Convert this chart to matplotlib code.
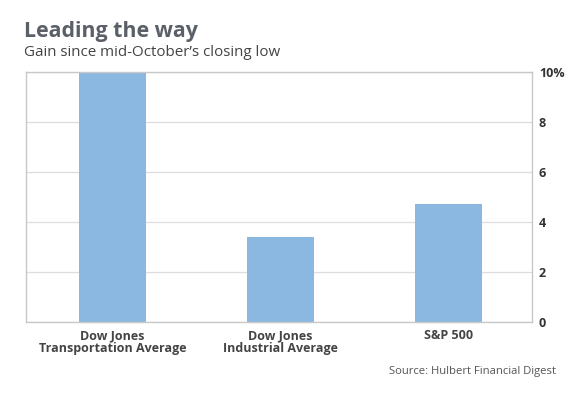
import matplotlib.pyplot as plt

categories = ["Dow Jones\nTransportation Average", "Dow Jones\nIndustrial Average", "S&P 500"]
gains = [10.0, 3.4, 4.7]
y_ticks = [0, 2, 4, 6, 8, 10]
y_labels = ["0", "2", "4", "6", "8", "10%"]

plt.rcParams['font.family'] = ['Open Sans', 'DejaVu Sans']

W, H = 569, 398
fig = plt.figure(figsize=(W / 100, H / 100), dpi=100)
ax = fig.add_axes([26 / W, 1 - 322 / H, (532 - 26) / W, (322 - 72) / H])

x = range(len(categories))
ax.bar(x, gains, width=0.4, color="#8ab8e0", zorder=2)
ax.set_xlim(-0.515, 2.497)
ax.set_ylim(0, 10)

ax.set_yticks(y_ticks)
ax.set_yticklabels(y_labels, fontweight="bold", color="#333333", fontsize=9)
ax.yaxis.tick_right()
ax.tick_params(axis="y", length=0, pad=5)
ax.grid(axis="y", color="#dddddd", linewidth=0.9, zorder=0)

ax.set_xticks(list(x))
ax.set_xticklabels(categories, fontweight="bold", color="#444444", fontsize=9, linespacing=1.05)
ax.tick_params(axis="x", length=0, pad=5)

for s in ax.spines.values():
    s.set_color("#c8c8c8")
    s.set_linewidth(1)

fig.text(24 / W, 1 - 37 / H, "Leading the way", fontsize=15.4, fontweight="bold", color="#5b6068")
fig.text(24 / W, 1 - 56 / H, "Gain since mid-October\u2019s closing low", fontsize=10.9, color="#444444")
fig.text(556 / W, 1 - 374 / H, "Source: Hulbert Financial Digest", fontsize=8.1, color="#555555", ha="right")

fig.savefig("out.png", dpi=100)
